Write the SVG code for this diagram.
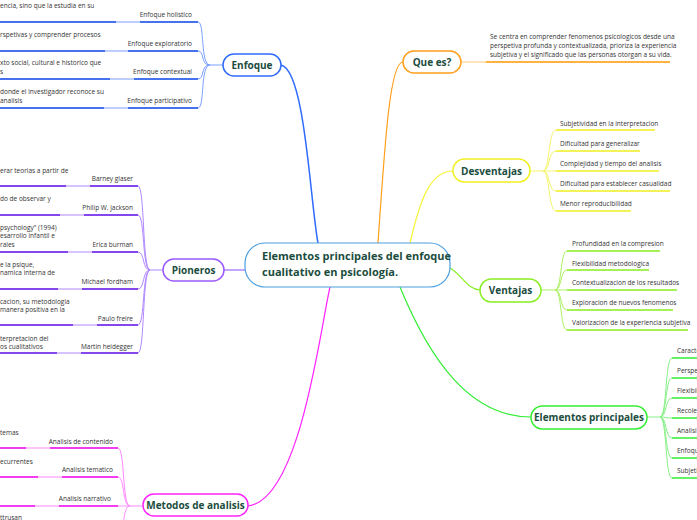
<svg xmlns="http://www.w3.org/2000/svg" width="697" height="520" viewBox="0 0 697 520">
<style>
.lbl{font-family:"Open Sans","Liberation Sans",sans-serif;font-size:6.5px;fill:#333}
.nt{font-family:"Open Sans","Liberation Sans",sans-serif;font-size:10px;font-weight:bold;fill:#1b4d3e;text-anchor:middle}
.r{text-anchor:end}
.c{fill:none;stroke-width:1}
.n{fill:#fff;stroke-width:1.5}
</style>
<rect width="697" height="520" fill="#fff"/>
<g id="connectors" fill="none">
<!-- main branches -->
<path d="M281,65 C305,70 310,200 318,243" stroke="#2f6bff" stroke-width="1.5"/>
<path d="M378,243 C385,140 390,62 403,62" stroke="#ff9f1a" stroke-width="1.2"/>
<path d="M410,243 C420,200 430,171 453,171" stroke="#f5f53a" stroke-width="1.2"/>
<path d="M450,268 C462,275 468,290 480,290" stroke="#88ee22" stroke-width="1.2"/>
<path d="M400,287 C430,360 470,417 531,417" stroke="#33ee33" stroke-width="1.2"/>
<path d="M224,270 L245,270" stroke="#b088ff" stroke-width="1.5"/>
<path d="M248,506 C300,500 320,330 330,287" stroke="#ff22ff" stroke-width="1.2"/>
<!-- Enfoque children -->
<g stroke="#7aa0ff">
<path d="M223,65 H210 C200,65 205,22 198,22"/><path d="M210,65 C200,65 205,51 198,51"/><path d="M210,65 C200,65 205,79 198,79"/><path d="M210,65 C200,65 205,108 198,108"/>
</g>
<g stroke="#a9c0ff" stroke-width="1.5"><path d="M0,22H198M0,51H198M0,79H198M0,108H198"/></g>
<g stroke="#1f55e8" stroke-width="1.5"><path d="M0,22H116M140,22H198M0,51H105M128,51H198M0,79H110M134,79H198M0,108H104M128,108H198"/></g>
<!-- Pioneros children -->
<g stroke="#b088ff">
<path d="M163,270 H150 C142,270 145,186 138,186"/><path d="M150,270 C142,270 145,215 138,215"/><path d="M150,270 C142,270 145,252 138,252"/><path d="M150,270 C142,270 145,289 138,289"/><path d="M150,270 C142,270 145,325 138,325"/><path d="M150,270 C142,270 145,353 138,353"/>
</g>
<g stroke="#c9b0ff" stroke-width="1.5"><path d="M0,186H138M0,215H138M0,252H138M0,289H138M0,325H138M0,353H138"/></g>
<g stroke="#6a1ee8" stroke-width="1.5"><path d="M0,186H66M90,186H138M0,215H60M84,215H138M0,252H68M92,252H138M0,289H58M82,289H138M0,325H73M97,325H138M0,353H57M81,353H138"/></g>
<!-- Metodos children -->
<g stroke="#ff88ff">
<path d="M143,506 H130 C122,506 125,448 118,448"/><path d="M130,506 C122,506 125,477 118,477"/><path d="M130,506 C122,506 125,506 118,506"/><path d="M130,506 C122,506 125,535 118,535"/>
</g>
<g stroke="#ffb0ff" stroke-width="1.5"><path d="M0,448H118M0,477H118M0,506H118"/></g>
<g stroke="#ee11ee" stroke-width="1.5"><path d="M0,448H26M50,448H118M0,477H38M62,477H118M0,506H35M59,506H118"/></g>
<!-- Que es child -->
<path d="M461,62 H486" stroke="#ffd9a8" stroke-width="1.5"/>
<path d="M486,62 H670" stroke="#ff9900" stroke-width="1.5"/>
<!-- Desventajas children -->
<g stroke="#f5f56a">
<path d="M530,171 H543 C550,171 548,130 556,130"/><path d="M543,171 C550,171 548,151 556,151"/><path d="M543,171 C550,171 548,171 556,171"/><path d="M543,171 C550,171 548,191 556,191"/><path d="M543,171 C550,171 548,211 556,211"/>
</g>
<g stroke="#f0f020" stroke-width="1.5"><path d="M556,130H655M556,151H640M556,171H659M556,191H670M556,211H631"/></g>
<!-- Ventajas children -->
<g stroke="#aaf060">
<path d="M541,290 H555 C562,290 560,251 567,251"/><path d="M555,290 C562,290 560,270 567,270"/><path d="M555,290 C562,290 560,290 567,290"/><path d="M555,290 C562,290 560,310 567,310"/><path d="M555,290 C562,290 560,330 567,330"/>
</g>
<g stroke="#88ee22" stroke-width="1.5"><path d="M567,251H660M567,270H649M567,290H677M567,310H673M567,330H688"/></g>
<!-- Elementos principales children -->
<g stroke="#88f088">
<path d="M647,417 H660 C667,417 665,358 672,358"/><path d="M660,417 C667,417 665,378 672,378"/><path d="M660,417 C667,417 665,398 672,398"/><path d="M660,417 C667,417 665,418 672,418"/><path d="M660,417 C667,417 665,438 672,438"/><path d="M660,417 C667,417 665,458 672,458"/><path d="M660,417 C667,417 665,478 672,478"/>
</g>
<g stroke="#33ee33" stroke-width="1.5"><path d="M672,358H697M672,378H697M672,398H697M672,418H697M672,438H697M672,458H697M672,478H697"/></g>
</g>
<g id="central">
<rect x="245" y="243" width="205" height="44" rx="20" fill="#fff" stroke="#4a9fe0" stroke-width="1.2"/>
<text x="262" y="260" class="nt" style="text-anchor:start;font-size:11px">Elementos principales del enfoque</text>
<text x="262" y="276" class="nt" style="text-anchor:start;font-size:11px">cualitativo en psicología.</text>
</g>
<g id="enfoque">
<rect x="223" y="54" width="58" height="22" rx="11" class="n" stroke="#2f6bff"/>
<text x="252" y="68.5" class="nt">Enfoque</text>
<text x="192" y="17" class="lbl r">Enfoque holistico</text>
<text x="192" y="46" class="lbl r">Enfoque exploratorio</text>
<text x="192" y="74" class="lbl r">Enfoque contextual</text>
<text x="192" y="103" class="lbl r">Enfoque participativo</text>
<text x="0" y="8" class="lbl">encia, sino que la estudia en su</text>
<text x="0" y="37" class="lbl">rspetivas y comprender procesos</text>
<text x="0" y="65" class="lbl">xto social, cultural e historico que</text>
<text x="0" y="74" class="lbl">s</text>
<text x="0" y="94" class="lbl">donde el investigador reconoce su</text>
<text x="0" y="103" class="lbl">analisis</text>
</g>
<g id="pioneros">
<rect x="163" y="259" width="61" height="22" rx="11" class="n" stroke="#9b59ff"/>
<text x="193.5" y="273.5" class="nt">Pioneros</text>
<text x="133" y="181" class="lbl r">Barney glaser</text>
<text x="133" y="210" class="lbl r">Philip W. jackson</text>
<text x="133" y="247" class="lbl r">Erica burman</text>
<text x="133" y="284" class="lbl r">Michael fordham</text>
<text x="133" y="321" class="lbl r">Paulo freire</text>
<text x="133" y="349" class="lbl r">Martin heidegger</text>
<text x="0" y="173" class="lbl">erar teorias a partir de</text>
<text x="0" y="201" class="lbl">do de observar y</text>
<text x="0" y="230" class="lbl">psychology" (1994)</text>
<text x="0" y="238" class="lbl">esarrollo infantil e</text>
<text x="0" y="247" class="lbl">rales</text>
<text x="0" y="267" class="lbl">e la psique,</text>
<text x="0" y="275" class="lbl">namica interna de</text>
<text x="0" y="304" class="lbl">cacion, su metodologia</text>
<text x="0" y="312" class="lbl">manera positiva en la</text>
<text x="0" y="341" class="lbl">terpretacion del</text>
<text x="0" y="349" class="lbl">os cualitativos</text>
</g>
<g id="metodos">
<rect x="143" y="494" width="105" height="22" rx="11" class="n" stroke="#ff22ff"/>
<text x="195.5" y="509" class="nt">Metodos de analisis</text>
<text x="113" y="444" class="lbl r">Analisis de contenido</text>
<text x="113" y="472" class="lbl r">Analisis tematico</text>
<text x="111" y="501" class="lbl r">Analisis narrativo</text>
<text x="0" y="435" class="lbl">temas</text>
<text x="0" y="464" class="lbl">ecurrentes</text>
<text x="0" y="520" class="lbl">ttrusan</text>
</g>
<g id="quees">
<rect x="403" y="51" width="58" height="22" rx="11" class="n" stroke="#ff9f1a"/>
<text x="432" y="65.5" class="nt">Que es?</text>
<text x="490" y="39" class="lbl">Se centra en comprender fenomenos psicologicos desde una</text>
<text x="490" y="48" class="lbl">perspetiva profunda y contextualizada, prioriza la experiencia</text>
<text x="490" y="57" class="lbl">subjetiva y el significado que las personas otorgan a su vida.</text>
</g>
<g id="desventajas">
<rect x="453" y="159" width="77" height="23" rx="11.5" class="n" stroke="#f0f020"/>
<text x="491.5" y="174.5" class="nt">Desventajas</text>
<text x="560" y="126" class="lbl">Subjetividad en la interpretacion</text>
<text x="560" y="146" class="lbl">Dificultad para generalizar</text>
<text x="560" y="166" class="lbl">Complejidad y tiempo del analisis</text>
<text x="560" y="186" class="lbl">Dificultad para establecer casualidad</text>
<text x="560" y="206" class="lbl">Menor reproducibilidad</text>
</g>
<g id="ventajas">
<rect x="480" y="279" width="61" height="23" rx="11.5" class="n" stroke="#88ee22"/>
<text x="510.5" y="294" class="nt">Ventajas</text>
<text x="572" y="246" class="lbl">Profundidad en la compresion</text>
<text x="572" y="266" class="lbl">Flexibilidad metodologica</text>
<text x="572" y="285" class="lbl">Contextualizacion de los resultados</text>
<text x="572" y="305" class="lbl">Exploracion de nuevos fenomenos</text>
<text x="572" y="325" class="lbl">Valorizacion de la experiencia subjetiva</text>
</g>
<g id="elementos">
<rect x="531" y="406" width="116" height="23" rx="11.5" class="n" stroke="#33ee33"/>
<text x="589" y="421" class="nt">Elementos principales</text>
<text x="677" y="353" class="lbl">Caracteristicas</text>
<text x="677" y="373" class="lbl">Perspectiva</text>
<text x="677" y="393" class="lbl">Flexibilidad</text>
<text x="677" y="413" class="lbl">Recoleccion</text>
<text x="677" y="433" class="lbl">Analisis</text>
<text x="677" y="453" class="lbl">Enfoque</text>
<text x="677" y="473" class="lbl">Subjetividad</text>
</g>
</svg>
